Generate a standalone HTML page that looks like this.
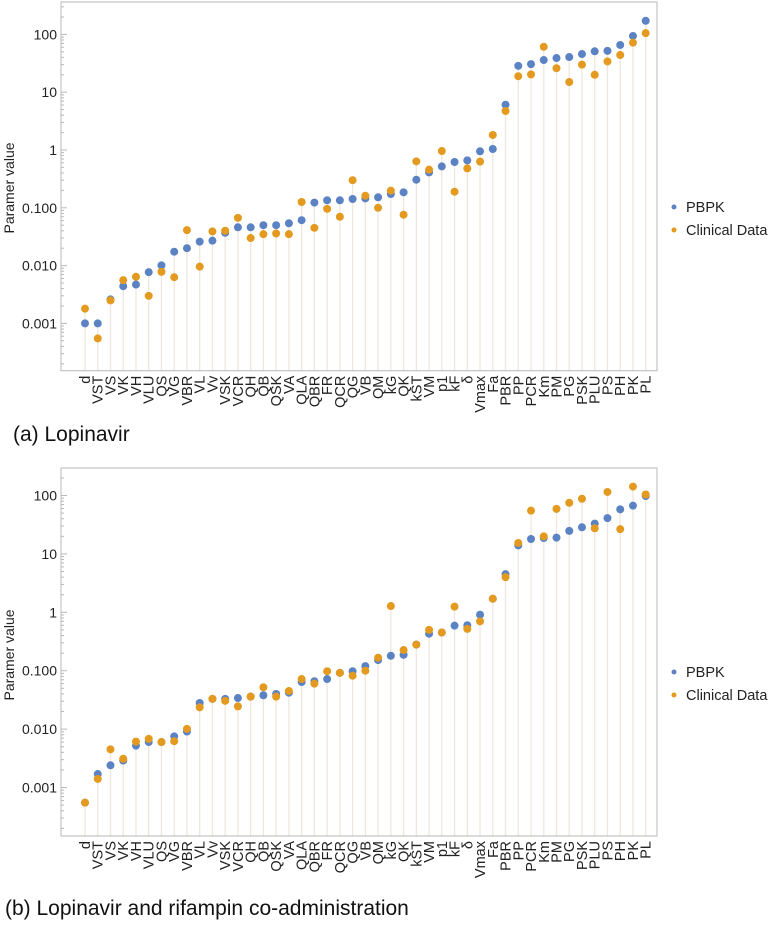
<!DOCTYPE html>
<html><head><meta charset="utf-8"><style>
html,body{margin:0;padding:0;background:#fff;}
svg{display:block;font-family:"Liberation Sans",Arial,sans-serif;}
.cap{font-family:"Liberation Sans",Arial,sans-serif;font-size:21px;fill:#111;}
</style></head><body>
<svg id="root" width="771" height="930" viewBox="0 0 771 930"></svg>
<script>
const categories=["d","VST","VS","VK","VH","VLU","QS","VG","VBR","VL","Vv","VSK","VCR","QH","QB","QSK","VA","QLA","QBR","FR","QCR","QG","VB","QM","kG","QK","kST","VM","p1","kF","δ","Vmax","Fa","PBR","PP","PCR","Km","PM","PG","PSK","PLU","PS","PH","PK","PL"];
const pbpkA=[0.001,0.001,0.0026,0.0044,0.0047,0.0077,0.0101,0.0174,0.020,0.026,0.027,0.037,0.046,0.046,0.050,0.050,0.054,0.061,0.123,0.135,0.135,0.142,0.145,0.152,0.173,0.185,0.306,0.41,0.52,0.62,0.66,0.95,1.04,6.07,28.6,30.6,36,39,40.6,45.7,51,52,65.6,94,172];
const clinA=[0.0018,0.00055,0.0025,0.0056,0.0064,0.003,0.0078,0.0063,0.041,0.0096,0.039,0.040,0.067,0.030,0.035,0.036,0.035,0.126,0.045,0.096,0.070,0.30,0.162,0.10,0.198,0.076,0.637,0.457,0.96,0.19,0.48,0.63,1.82,4.73,18.9,20.3,61,26,15,30,20,34,44,72,105];
const pbpkB=[0.00055,0.0017,0.0024,0.0029,0.0052,0.006,0.006,0.0075,0.0091,0.028,0.033,0.033,0.034,0.036,0.038,0.040,0.042,0.064,0.066,0.072,0.092,0.098,0.12,0.152,0.18,0.187,0.28,0.43,0.45,0.59,0.6,0.91,1.71,4.5,14,18,18.7,19,24.8,28.6,33,41,58,67,98];
const clinB=[0.00055,0.0014,0.0045,0.0031,0.0061,0.0068,0.006,0.0062,0.0101,0.0236,0.033,0.0305,0.0245,0.036,0.052,0.036,0.045,0.072,0.060,0.098,0.092,0.082,0.10,0.167,1.28,0.226,0.28,0.50,0.45,1.25,0.52,0.70,1.71,4.0,15.4,55,20,59,75,88,27.5,115,26.5,142,104];
const tickVals=[0.001,0.01,0.1,1,10,100];
const tickLabels=["0.001","0.010","0.100","1","10","100"];

const NS="http://www.w3.org/2000/svg";
const root=document.getElementById('root');
function mk(tag,attrs,parent){const e=document.createElementNS(NS,tag);for(const k in attrs)e.setAttribute(k,attrs[k]);(parent||root).appendChild(e);return e;}

function chart(cfg){
  const g=mk('g',{});
  
  
  const L=61,R=657,T=cfg.top,B=cfg.bottom;
  const y=v=>cfg.y1-(Math.log10(v))*cfg.dec;
  const x=i=>85+i*((645.7-85)/44);
  categories.forEach((c,i)=>{
    const top=Math.min(y(cfg.p[i]),y(cfg.c[i]));
    const s=mk('line',{x1:x(i),x2:x(i),y1:top,y2:B,stroke:'#efe7dc','stroke-width':1.3},g);
    
    
  });
  const fr=mk('rect',{x:L,y:T,width:R-L,height:B-T,fill:'none',stroke:'#b8b8b8','stroke-width':1},g);
  
  
  for(let d=-4;d<=3;d++){for(let m=1;m<10;m++){const v=m*Math.pow(10,d);const yy=y(v);if(yy<T||yy>B)continue;
    const t=mk('line',{x1:L,x2:L+(m===1?6:3),y1:yy,y2:yy,stroke:'#b8b8b8','stroke-width':1},g);
    
    }}
  tickVals.forEach((v,k)=>{
    const t=mk('text',{x:L-4,y:y(v)+5,'text-anchor':'end','font-size':14,fill:'#222'},g);
    t.textContent=tickLabels[k];
    
    
  });
  const yl=mk('text',{x:0,y:0,transform:`translate(14,${cfg.ylabY}) rotate(-90)`,'text-anchor':'middle','font-size':14,fill:'#222'},g);
  yl.textContent='Paramer value';
  
  
  categories.forEach((c,i)=>{
    const t=mk('text',{x:0,y:0,transform:`translate(${x(i)+5},${B+5}) rotate(-90)`,'text-anchor':'end','font-size':14.5,fill:'#222'},g);
    t.textContent=c;
    
    
  });
  categories.forEach((c,i)=>{
    const b=mk('circle',{cx:x(i),cy:y(cfg.p[i]),r:4,fill:'#5b83c4'},g);
    
    
  });
  categories.forEach((c,i)=>{
    const o=mk('circle',{cx:x(i),cy:y(cfg.c[i]),r:4,fill:'#e49a1f'},g);
    
    
  });
  const lg=mk('g',{},g);
  
  
  [['PBPK','#5b83c4'],['Clinical Data','#e49a1f']].forEach((e,k)=>{
    const yy=cfg.legY+k*23;
    const d=mk('circle',{cx:674,cy:yy,r:2.5,fill:e[1]},lg);
    
    
    const t=mk('text',{x:686,y:yy+5,'font-size':14.5,fill:'#222'},lg);
    t.textContent=e[0];
    
    
  });
  const cap=mk('text',{x:cfg.capX,y:cfg.capY,class:'cap'},g);
  cap.textContent=cfg.caption;
  
  
}
chart({name:'chart-lopinavir',top:2,bottom:370.7,y1:150,dec:57.8,p:pbpkA,c:clinA,ylabY:188,legY:207,caption:'(a)  Lopinavir',capX:13,capY:441});
chart({name:'chart-lopinavir-rifampin',top:468,bottom:836,y1:612.3,dec:58.4,p:pbpkB,c:clinB,ylabY:655,legY:672,caption:'(b) Lopinavir and rifampin co-administration',capX:5,capY:915});
</script>
</body></html>
